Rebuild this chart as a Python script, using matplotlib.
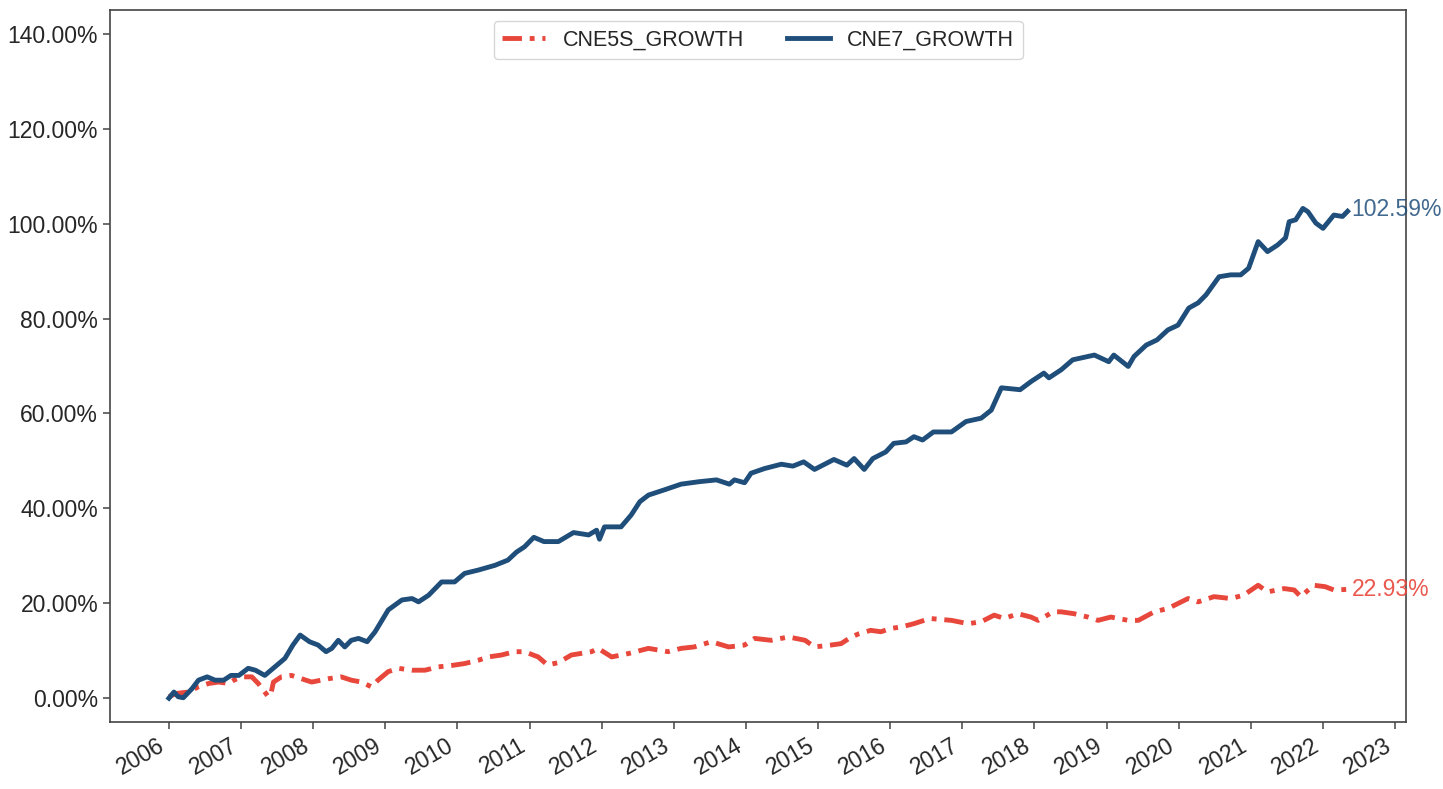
import matplotlib
matplotlib.use("Agg")
import matplotlib.pyplot as plt
import matplotlib.dates as mdates
from matplotlib.ticker import FuncFormatter
from datetime import datetime, timedelta

# ---- data (decimal year, cumulative return in %) ----
blue_name = "CNE7_GROWTH"
blue_x = [2006.00, 2006.07, 2006.13, 2006.20, 2006.32, 2006.41, 2006.53, 2006.64, 2006.76, 2006.86,
          2006.97, 2007.10, 2007.20, 2007.33, 2007.47, 2007.61, 2007.72, 2007.82, 2007.95, 2008.07,
          2008.18, 2008.26, 2008.35, 2008.44, 2008.53, 2008.63, 2008.75, 2008.86, 2009.04, 2009.23,
          2009.37, 2009.46, 2009.60, 2009.78, 2009.96, 2010.10, 2010.29, 2010.52, 2010.70, 2010.82,
          2010.93, 2011.06, 2011.20, 2011.40, 2011.61, 2011.82, 2011.93, 2011.97, 2012.04, 2012.27,
          2012.41, 2012.53, 2012.65, 2012.87, 2013.10, 2013.34, 2013.59, 2013.77, 2013.84, 2013.98,
          2014.07, 2014.26, 2014.49, 2014.65, 2014.80, 2014.95, 2015.22, 2015.40, 2015.50, 2015.64,
          2015.76, 2015.94, 2016.05, 2016.22, 2016.33, 2016.45, 2016.60, 2016.85, 2017.05, 2017.26,
          2017.40, 2017.54, 2017.80, 2017.95, 2018.13, 2018.20, 2018.37, 2018.53, 2018.83, 2019.03,
          2019.10, 2019.30, 2019.38, 2019.55, 2019.70, 2019.85, 2019.99, 2020.14, 2020.27, 2020.38,
          2020.56, 2020.72, 2020.86, 2020.97, 2021.10, 2021.23, 2021.37, 2021.48, 2021.53, 2021.62,
          2021.72, 2021.79, 2021.90, 2022.00, 2022.15, 2022.27, 2022.34]
blue_y = [0.0, 1.3, 0.3, 0.1, 2.0, 3.8, 4.5, 3.8, 3.8, 4.8,
          4.8, 6.3, 5.9, 4.8, 6.6, 8.4, 11.2, 13.3, 11.9, 11.2,
          9.8, 10.5, 12.2, 10.8, 12.2, 12.6, 11.9, 14.0, 18.6, 20.7,
          21.0, 20.3, 21.7, 24.5, 24.5, 26.3, 27.0, 28.0, 29.1, 30.8,
          31.9, 33.9, 33.0, 33.0, 34.9, 34.4, 35.4, 33.5, 36.1, 36.1,
          38.6, 41.4, 42.8, 43.9, 45.1, 45.6, 46.0, 45.1, 46.0, 45.4,
          47.4, 48.4, 49.3, 48.9, 49.8, 48.2, 50.3, 49.1, 50.5, 48.2,
          50.5, 51.9, 53.7, 54.0, 55.1, 54.4, 56.1, 56.1, 58.3, 59.0,
          60.7, 65.4, 65.0, 66.7, 68.5, 67.5, 69.2, 71.3, 72.3, 70.9,
          72.3, 69.9, 72.0, 74.4, 75.5, 77.6, 78.6, 82.2, 83.3, 85.0,
          88.8, 89.2, 89.2, 90.6, 96.2, 94.1, 95.5, 97.0, 100.4, 100.8,
          103.2, 102.5, 100.1, 99.0, 101.8, 101.5, 102.59]

red_name = "CNE5S_GROWTH"
red_x = [2006.00, 2006.10, 2006.27, 2006.41, 2006.55, 2006.69, 2006.83, 2006.90, 2007.01, 2007.15,
         2007.24, 2007.33, 2007.38, 2007.42, 2007.45, 2007.56, 2007.70, 2007.84, 2007.98, 2008.21,
         2008.39, 2008.53, 2008.67, 2008.81, 2008.90, 2009.04, 2009.18, 2009.37, 2009.55, 2009.73,
         2009.92, 2010.10, 2010.29, 2010.43, 2010.61, 2010.79, 2010.93, 2011.12, 2011.25, 2011.40,
         2011.58, 2011.86, 2011.95, 2012.14, 2012.37, 2012.65, 2012.92, 2013.10, 2013.28, 2013.52,
         2013.76, 2013.98, 2014.12, 2014.35, 2014.59, 2014.82, 2014.95, 2015.18, 2015.32, 2015.46,
         2015.57, 2015.73, 2015.87, 2016.01, 2016.15, 2016.33, 2016.55, 2016.85, 2017.08, 2017.26,
         2017.44, 2017.58, 2017.77, 2017.95, 2018.05, 2018.26, 2018.37, 2018.55, 2018.74, 2018.88,
         2019.06, 2019.30, 2019.44, 2019.66, 2019.85, 2020.13, 2020.27, 2020.49, 2020.72, 2020.90,
         2021.10, 2021.23, 2021.46, 2021.60, 2021.69, 2021.87, 2022.03, 2022.15, 2022.34]
red_y = [0.3, 1.0, 1.3, 2.4, 3.1, 3.4, 3.1, 3.8, 4.5, 4.5,
         3.1, 1.3, 0.3, 1.3, 3.4, 4.5, 4.8, 4.1, 3.4, 4.1,
         4.5, 3.8, 3.4, 2.4, 3.8, 5.6, 6.3, 5.9, 5.9, 6.6,
         6.9, 7.3, 8.0, 8.7, 9.1, 9.8, 9.8, 8.7, 7.0, 7.5,
         9.1, 9.8, 10.5, 8.7, 9.4, 10.5, 9.8, 10.5, 10.8, 11.9,
         10.8, 11.2, 12.6, 12.2, 12.9, 12.2, 10.8, 11.2, 11.5, 12.9,
         13.6, 14.3, 14.0, 14.7, 15.0, 15.7, 16.8, 16.4, 15.7, 16.1,
         17.5, 16.8, 17.8, 17.1, 16.4, 18.2, 18.2, 17.8, 17.1, 16.4,
         17.1, 16.4, 16.4, 18.2, 18.9, 21.0, 20.3, 21.4, 21.0, 21.7,
         23.8, 22.4, 23.1, 22.8, 21.4, 23.8, 23.5, 22.8, 22.93]

y_ticks = [0, 20, 40, 60, 80, 100, 120, 140]


def to_dates(years):
    out = []
    for y in years:
        base = int(y)
        out.append(datetime(base, 1, 1) + timedelta(days=(y - base) * 365.25))
    return out


plt.rcParams['font.family'] = ['Liberation Sans', 'DejaVu Sans']

RED = "#e8473c"
BLUE = "#1f4e7a"
TXT = "#262626"
FS = 16.5

fig = plt.figure(figsize=(14.43, 7.89), dpi=100)
ax = fig.add_axes([0.0762, 0.085, 0.9747 - 0.0762, 0.9873 - 0.085])

rd = to_dates(red_x)
bd = to_dates(blue_x)
ax.plot(rd, red_y, color=RED, lw=3.5, dashes=(4.0, 1.6, 1.0, 1.6), label=red_name)
ax.plot(bd, blue_y, color=BLUE, lw=3.5, linestyle='-', label=blue_name)

ax.annotate(f"{red_y[-1]:.2f}%", xy=(rd[-1], red_y[-1]), xytext=(3, 0),
            textcoords='offset points', ha='left', va='center',
            color=RED, alpha=0.9, fontsize=FS)
ax.annotate(f"{blue_y[-1]:.2f}%", xy=(bd[-1], blue_y[-1]), xytext=(3, 1.5),
            textcoords='offset points', ha='left', va='center',
            color=BLUE, alpha=0.85, fontsize=FS)

ax.set_ylim(-5, 145)
ax.set_yticks(y_ticks)
ax.yaxis.set_major_formatter(FuncFormatter(lambda v, p: f"{v:.2f}%"))

ax.xaxis.set_major_locator(mdates.YearLocator())
ax.xaxis.set_major_formatter(mdates.DateFormatter('%Y'))
for lab in ax.get_xticklabels():
    lab.set_rotation(30)
    lab.set_ha('right')

ax.tick_params(axis='both', labelsize=FS, colors='#444444', labelcolor=TXT,
               length=5, width=1.1, direction='out')
for s in ax.spines.values():
    s.set_color('#444444')
    s.set_linewidth(1.2)

leg = ax.legend(loc='upper center', ncol=2, fontsize=15.5, frameon=True,
                fancybox=True, edgecolor='#cccccc', handlelength=2.0,
                columnspacing=2.0)
for t in leg.get_texts():
    t.set_color(TXT)

fig.savefig("out.png", dpi=100)
